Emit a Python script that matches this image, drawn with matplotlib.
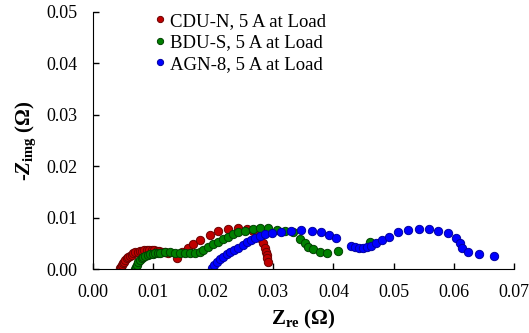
import matplotlib
matplotlib.use("Agg")
import matplotlib.pyplot as plt

plt.rcParams['font.family'] = ['Liberation Serif', 'DejaVu Serif']
plt.rcParams['mathtext.fontset'] = 'custom'
plt.rcParams['mathtext.rm'] = 'Liberation Serif:bold'
plt.rcParams['mathtext.it'] = 'Liberation Serif:italic:bold'
plt.rcParams['mathtext.bf'] = 'Liberation Serif:bold'

# Nyquist data (Z_re, -Z_img) in ohm
cdu_x = [0.00456, 0.00470, 0.00485, 0.00503, 0.00523, 0.00545, 0.00568, 0.00595, 0.00622,
         0.00650, 0.00677, 0.00712, 0.00750, 0.00783, 0.00817, 0.00858, 0.00900, 0.00942,
         0.00983, 0.01025, 0.01066, 0.01108, 0.01149, 0.01200, 0.01253, 0.01398, 0.01486,
         0.01585, 0.01668, 0.01784, 0.01950, 0.02083, 0.02249, 0.02415, 0.02559, 0.02664,
         0.02725, 0.02780, 0.02830, 0.02863, 0.02880, 0.02891, 0.02901, 0.02908]
cdu_y = [0.00014, 0.00045, 0.00078, 0.00110, 0.00142, 0.00175, 0.00208, 0.00235, 0.00258,
         0.00282, 0.00305, 0.00322, 0.00336, 0.00346, 0.00355, 0.00362, 0.00369, 0.00370,
         0.00369, 0.00362, 0.00355, 0.00346, 0.00336, 0.00324, 0.00311, 0.00219, 0.00336,
         0.00408, 0.00485, 0.00563, 0.00660, 0.00738, 0.00777, 0.00802, 0.00777, 0.00738,
         0.00699, 0.00602, 0.00505, 0.00408, 0.00336, 0.00272, 0.00208, 0.00142]

bdu_x = [0.00705, 0.00720, 0.00734, 0.00760, 0.00787, 0.00817, 0.00845, 0.00871, 0.00912,
         0.00954, 0.00995, 0.01037, 0.01078, 0.01120, 0.01203, 0.01286, 0.01369, 0.01452,
         0.01535, 0.01618, 0.01701, 0.01784, 0.01839, 0.01922, 0.02005, 0.02088, 0.02171,
         0.02254, 0.02337, 0.02420, 0.02531, 0.02669, 0.02780, 0.02918, 0.03057, 0.03195,
         0.03333, 0.03444, 0.03527, 0.03582, 0.03665, 0.03776, 0.03887, 0.04080, 0.04606]
bdu_y = [0.00000, 0.00040, 0.00078, 0.00142, 0.00175, 0.00208, 0.00235, 0.00258, 0.00272,
         0.00285, 0.00295, 0.00305, 0.00311, 0.00317, 0.00324, 0.00324, 0.00317, 0.00317,
         0.00317, 0.00305, 0.00305, 0.00324, 0.00369, 0.00433, 0.00480, 0.00530, 0.00583,
         0.00627, 0.00674, 0.00713, 0.00738, 0.00777, 0.00802, 0.00790, 0.00757, 0.00738,
         0.00713, 0.00583, 0.00499, 0.00421, 0.00383, 0.00336, 0.00305, 0.00350, 0.00518]

agn_x = [0.01978, 0.02022, 0.02061, 0.02116, 0.02171, 0.02227, 0.02282, 0.02353, 0.02420,
         0.02493, 0.02559, 0.02631, 0.02697, 0.02780, 0.02863, 0.02974, 0.03129, 0.03295,
         0.03461, 0.03638, 0.03788, 0.03930, 0.04041, 0.04285, 0.04357, 0.04428, 0.04495,
         0.04551, 0.04617, 0.04705, 0.04800, 0.04926, 0.05075, 0.05241, 0.05419, 0.05585,
         0.05739, 0.05895, 0.06041, 0.06100, 0.06141, 0.06237, 0.06418, 0.06657]
agn_y = [0.00025, 0.00078, 0.00142, 0.00194, 0.00239, 0.00285, 0.00324, 0.00369, 0.00414,
         0.00466, 0.00518, 0.00563, 0.00608, 0.00647, 0.00674, 0.00693, 0.00724, 0.00744,
         0.00757, 0.00738, 0.00713, 0.00660, 0.00596, 0.00452, 0.00421, 0.00402, 0.00402,
         0.00421, 0.00447, 0.00499, 0.00563, 0.00627, 0.00713, 0.00757, 0.00777, 0.00777,
         0.00738, 0.00693, 0.00596, 0.00499, 0.00402, 0.00336, 0.00287, 0.00262]

labels = ['CDU-N, 5 A at Load', 'BDU-S, 5 A at Load', 'AGN-8, 5 A at Load']

fig = plt.figure(figsize=(5.29, 3.33), dpi=100)
ax = fig.add_axes([0.175, 0.192, 0.797, 0.773])

ax.plot(cdu_x, cdu_y, 'o', ms=6, mfc='#c00000', mec='#6b0000', mew=0.7, label=labels[0])
ax.plot(bdu_x, bdu_y, 'o', ms=6, mfc='#008000', mec='#004000', mew=0.7, label=labels[1])
ax.plot(agn_x, agn_y, 'o', ms=6, mfc='#0000ff', mec='#0000a0', mew=0.7, label=labels[2])

ax.set_xlim(0, 0.07)
ax.set_ylim(0, 0.05)
ax.set_xticks([0, 0.01, 0.02, 0.03, 0.04, 0.05, 0.06, 0.07])
ax.set_yticks([0, 0.01, 0.02, 0.03, 0.04, 0.05])
ax.xaxis.set_major_formatter(plt.FormatStrFormatter('%.2f'))
ax.yaxis.set_major_formatter(plt.FormatStrFormatter('%.2f'))
ax.tick_params(direction='in', length=4, width=1, labelsize=13, pad=11)
ax.spines['top'].set_visible(False)
ax.spines['right'].set_visible(False)

ax.set_xlabel(r'$\mathrm{Z}_{\mathrm{re}}$ ($\Omega$)', fontsize=15, fontweight='bold', labelpad=5)
ax.set_ylabel(r'-$Z_{\mathrm{img}}$ ($\Omega$)', fontsize=15, fontweight='bold', labelpad=6)

ax.legend(loc='upper left', bbox_to_anchor=(0.13, 1.025), frameon=False, fontsize=13.5,
          markerscale=0.75, handlelength=0.5, handletextpad=0.3, labelspacing=0.23,
          borderaxespad=0)

fig.savefig('out.png', dpi=100)
